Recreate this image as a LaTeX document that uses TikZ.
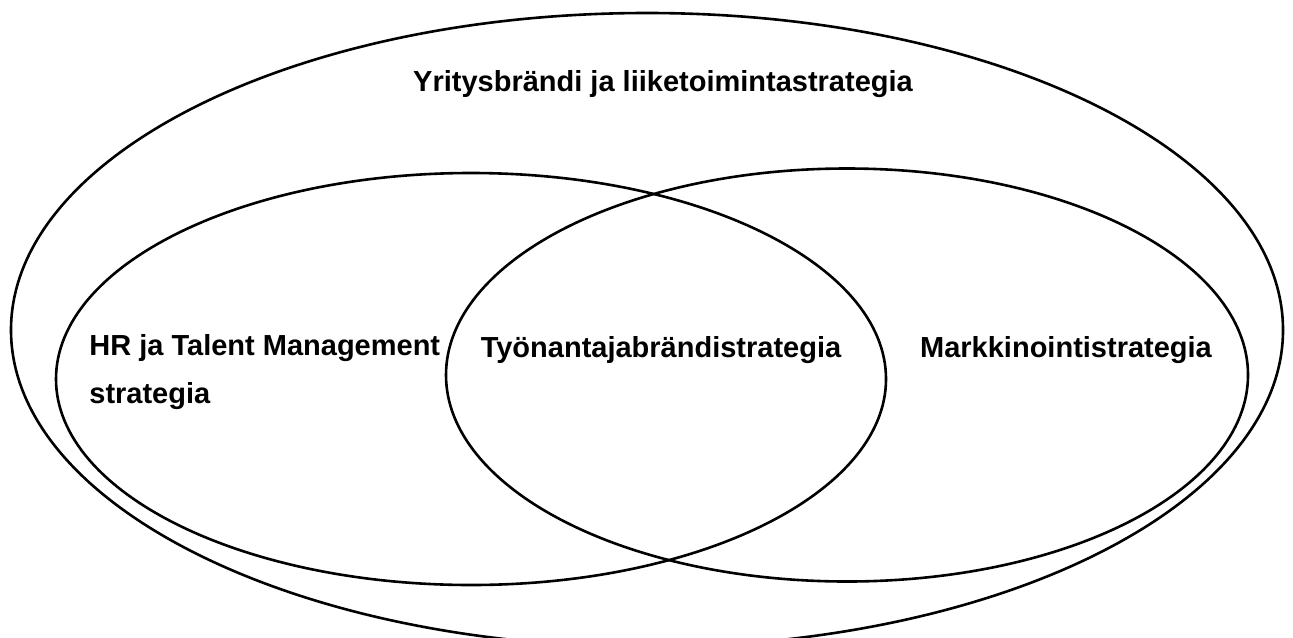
\documentclass[tikz,border=0pt]{standalone}
\usepackage{fontspec}
\setmainfont{Liberation Sans}
\usetikzlibrary{shapes.geometric,positioning}

\begin{document}
\begin{tikzpicture}[x=0.5pt,y=-0.5pt,
        venn/.style={draw,ellipse,line width=1.3pt,inner sep=0pt},
        lbl/.style={font=\fontsize{14.5}{24}\selectfont\bfseries,inner sep=0pt}]

                \useasboundingbox (0,0) rectangle (1293,637);

                \node[venn,minimum width=636pt,minimum height=317pt] (yritys) at (647,330) {};

                \node[venn,minimum width=415pt,minimum height=206pt] (hr) at (471,379) {};

                \node[venn,minimum width=401pt,minimum height=206.5pt] (mark) at (847,375) {};

                \node[lbl,anchor=base] (yrityslbl) at (663,91) {Yritysbrändi ja liiketoimintastrategia};

                \node[lbl,anchor=base west,align=left] (hrlbl) at (89,403) {HR ja Talent Management\\strategia};

                \node[lbl,anchor=base] (tyolbl) at (661,357) {Työnantajabrändistrategia};

                \node[lbl,anchor=base] (marklbl) at (1066,357) {Markkinointistrategia};

            \end{tikzpicture}
\end{document}
